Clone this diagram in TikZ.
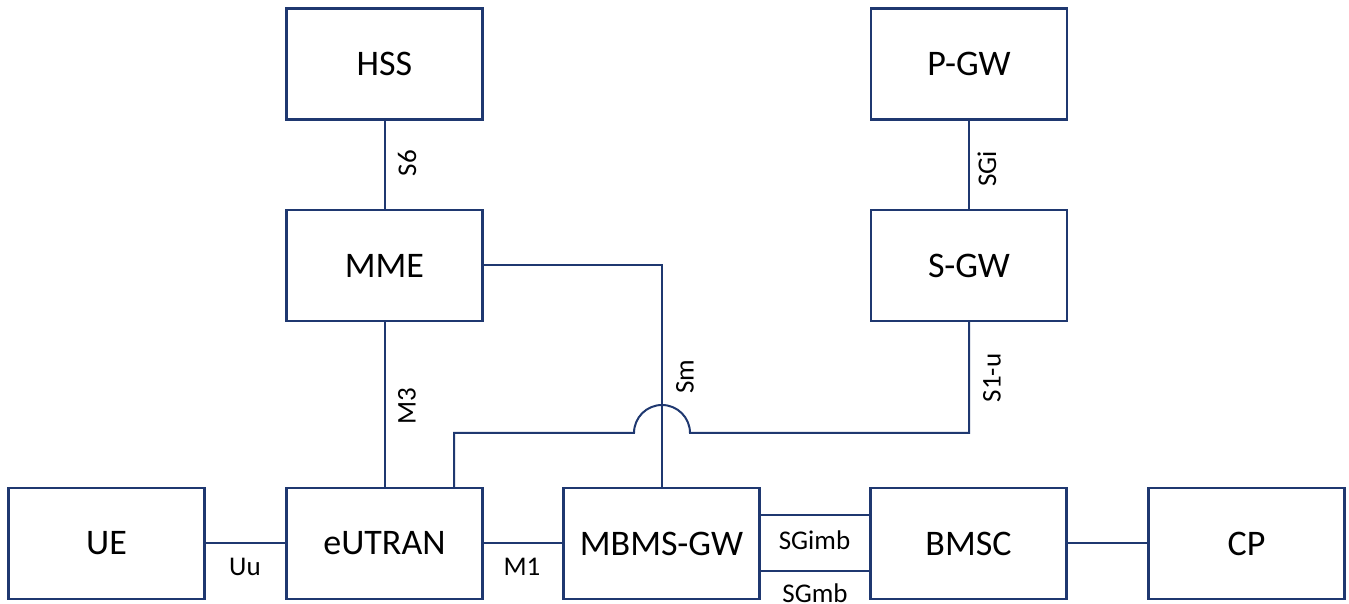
\documentclass[tikz,border=0pt]{standalone}
\usepackage{fontspec}
\setmainfont{Carlito}
\definecolor{navy}{RGB}{31,56,112}
\begin{document}
\begin{tikzpicture}[x=1pt,y=1pt,
  box/.style={draw=navy,line width=2.4pt,fill=white,minimum width=196pt,minimum height=111pt,inner sep=0pt,font=\fontsize{36}{40}\selectfont},
  link/.style={draw=navy,line width=2pt},
  lbl/.style={inner sep=0pt,font=\fontsize{27}{30}\selectfont},
  vlbl/.style={lbl,rotate=90}]
\useasboundingbox (0,0) rectangle (1349,604);
% network elements
\node[box] (hss)  at (384.5,540) {HSS};
\node[box] (pgw)  at (969,540)   {P-GW};
\node[box] (mme)  at (384.5,338.5) {MME};
\node[box] (sgw)  at (969,338.5) {S-GW};
\node[box] (ue)   at (106.5,60.5) {UE};
\node[box] (enb)  at (384.5,60.5) {eUTRAN};
\node[box] (mbms) at (661.5,60.5) {MBMS-GW};
\node[box] (bmsc) at (968.5,60.5) {BMSC};
\node[box] (cp)   at (1246.5,60.5) {CP};
% interfaces
\draw[link] (hss.south) -- (mme.north);
\draw[link] (pgw.south) -- (sgw.south |- pgw.south) -- (sgw.north);
\draw[link] (mme.south) -- (enb.north);
\draw[link] (ue.east) -- (enb.west);
\draw[link] (enb.east) -- (mbms.west);
\draw[link] ([yshift=28pt]mbms.east) -- ([yshift=28pt]bmsc.west);
\draw[link] ([yshift=-28pt]mbms.east) -- ([yshift=-28pt]bmsc.west);
\draw[link] (bmsc.east) -- (cp.west);
\draw[link] (mme.east) -| (mbms.north);
% S1-u hops over the Sm line
\draw[link] ([xshift=69.5pt]enb.north) |- (634,171)
  arc[start angle=180,end angle=0,radius=28] -| (sgw.south);
% interface names
\node[vlbl] (s6)  at (407,441) {S6};
\node[vlbl] (sgi) at (987,435) {SGi};
\node[vlbl] (m3)  at (407,198) {M3};
\node[vlbl] (sm)  at (685,227) {Sm};
\node[vlbl] (s1u) at (992,226) {S1-u};
\node[lbl] (uu) at (245,37) {Uu};
\node[lbl] (m1) at (522,37) {M1};
\node[lbl] (sgimb) at (814.5,64) {SGimb};
\node[lbl,anchor=base] (sgmb) at (815,1) {SGmb};
\end{tikzpicture}
\end{document}
